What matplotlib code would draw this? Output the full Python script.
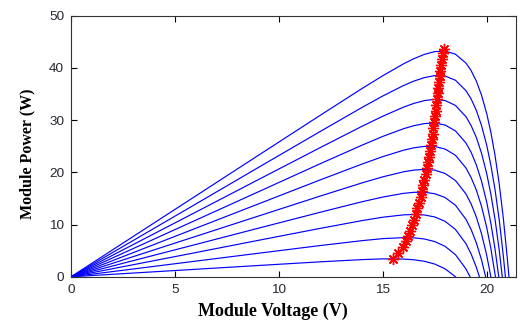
import matplotlib
matplotlib.use("Agg")
import matplotlib.pyplot as plt

# voltage points (V) where the power curves were read
volt_grid = [0, 3, 6, 9, 12, 14, 15, 16, 16.5, 17, 17.5, 18, 18.5, 19,
             19.25, 19.5, 19.75, 20, 20.2, 20.4, 20.6, 20.8, 21]

# open circuit voltage of each curve, lowest irradiance first
voc = [18.5, 19.2, 19.65, 19.95, 20.2, 20.42, 20.58, 20.75, 20.9, 21.07]

# module power (W) at volt_grid, one list per irradiance level
power_curves = [
    [0, 0.72, 1.44, 2.16, 2.87, 3.29, 3.43, 3.40, 3.26, 2.97, 2.44, 1.52],
    [0, 1.5, 3.0, 4.5, 5.99, 6.92, 7.31, 7.5, 7.46, 7.24, 6.75, 5.83, 4.22, 1.52],
    [0, 2.32, 4.64, 6.97, 9.28, 10.76, 11.41, 11.86, 11.94, 11.84, 11.46, 10.62,
     9.05, 6.35, 4.38, 1.84],
    [0, 3.1, 6.19, 9.29, 12.37, 14.37, 15.27, 15.98, 16.18, 16.19, 15.91, 15.18,
     13.69, 11.02, 9.06, 6.52, 3.26],
    [0, 3.87, 7.74, 11.61, 15.47, 17.98, 19.14, 20.11, 20.43, 20.57, 20.42, 19.78,
     18.42, 15.88, 13.96, 11.47, 8.25, 4.13],
    [0, 4.64, 9.29, 13.93, 18.57, 21.59, 23.01, 24.24, 24.7, 24.97, 24.95, 24.46,
     23.26, 20.85, 19.01, 16.63, 13.51, 9.47, 5.44],
    [0, 5.42, 10.84, 16.25, 21.67, 25.2, 26.88, 28.36, 28.94, 29.34, 29.44, 29.06,
     27.93, 25.63, 23.85, 21.45, 18.33, 14.3, 10.25, 5.34],
    [0, 6.19, 12.38, 18.58, 24.76, 28.82, 30.75, 32.49, 33.21, 33.74, 33.98, 33.75,
     32.8, 30.67, 28.96, 26.69, 23.68, 19.77, 15.84, 11.03, 5.19],
    [0, 6.97, 13.93, 20.9, 27.85, 32.43, 34.62, 36.63, 37.48, 38.14, 38.53, 38.44,
     37.63, 35.65, 34.06, 31.88, 28.98, 25.22, 21.39, 16.72, 11.0, 4.0],
    [0, 7.74, 15.48, 23.22, 30.95, 36.05, 38.5, 40.78, 41.77, 42.59, 43.12, 43.22,
     42.62, 40.93, 39.48, 37.48, 34.8, 31.27, 27.68, 23.26, 17.86, 11.21, 3.2],
]

# tracked maximum power points
mpp_v = [15.47, 15.75, 15.95, 16.1, 16.22, 16.32, 16.42, 16.5, 16.58, 16.66,
         16.74, 16.82, 16.88, 16.94, 17.0, 17.06, 17.12, 17.17, 17.22, 17.27,
         17.32, 17.36, 17.4, 17.44, 17.48, 17.52, 17.55, 17.58, 17.61, 17.64,
         17.67, 17.7, 17.73, 17.77, 17.81, 17.85, 17.89, 17.93]
mpp_p = [3.4, 4.6, 5.7, 6.8, 7.8, 8.8, 9.9, 10.9, 12.0, 13.1,
         14.2, 15.3, 16.4, 17.5, 18.6, 19.7, 20.8, 21.9, 23.0, 24.1,
         25.2, 26.3, 27.4, 28.5, 29.6, 30.7, 31.8, 32.9, 34.0, 35.1,
         36.2, 37.3, 38.4, 39.5, 40.6, 41.7, 42.8, 43.6]

x_ticks = [0, 5, 10, 15, 20]
y_ticks = [0, 10, 20, 30, 40, 50]

fig = plt.figure(figsize=(5.21, 3.2), dpi=100)
ax = fig.add_axes([0.1363, 0.135, 0.8537, 0.816])

for p, vo in zip(power_curves, voc):
    v = volt_grid[:len(p)] + [vo]
    ax.plot(v, p + [0], color="#0000ff", linewidth=0.85)

# matlab style asterisk (8 arms)
ax.plot(mpp_v, mpp_p, linestyle="none", marker=(8, 2, 0), color="red",
        markersize=8, markeredgewidth=1.0)

ax.set_xlim(0, 21.4)
ax.set_ylim(0, 50)
ax.set_xticks(x_ticks)
ax.set_yticks(y_ticks)
ax.tick_params(direction="in", top=True, right=True, length=4, width=0.8,
               labelsize=9.7, labelcolor="#262630", pad=5)
for lab in ax.get_xticklabels() + ax.get_yticklabels():
    lab.set_fontfamily("Liberation Sans")
for s in ax.spines.values():
    s.set_linewidth(0.8)
    s.set_color("#333333")

ax.set_xlabel("Module Voltage (V)", fontsize=13, fontweight="bold",
              family="Liberation Serif")
ax.set_ylabel("Module Power (W)", fontsize=11.5, fontweight="bold",
              family="Liberation Serif")
ax.xaxis.set_label_coords(0.453, -0.098)
ax.yaxis.set_label_coords(-0.08, 0.47)

fig.savefig("out.png", dpi=100)
